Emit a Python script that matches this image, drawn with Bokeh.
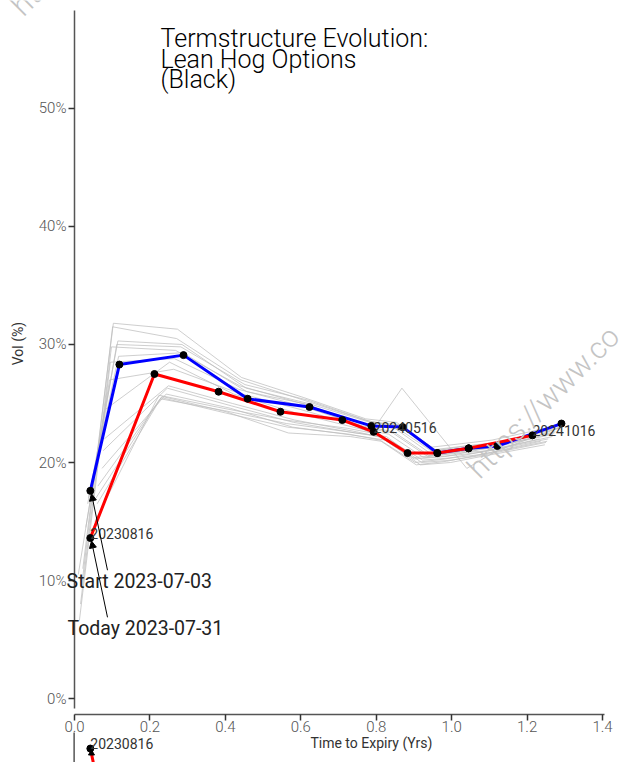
import math
from bokeh.plotting import figure
from bokeh.models import FixedTicker, PrintfTickFormatter, Label, Arrow, NormalHead
from bokeh.core.properties import value
from bokeh.embed import file_html
from bokeh.resources import INLINE

# ---- data ----
start_x = [0.042, 0.119, 0.289, 0.459, 0.623, 0.787, 0.870, 0.962, 1.045, 1.121, 1.291]
start_vol = [17.6, 28.3, 29.1, 25.4, 24.7, 23.1, 23.0, 20.8, 21.2, 21.4, 23.3]

today_x = [0.042, 0.212, 0.382, 0.546, 0.710, 0.793, 0.883, 0.962, 1.045, 1.214]
today_vol = [13.6, 27.5, 26.0, 24.3, 23.6, 22.6, 20.8, 20.8, 21.2, 22.3]

gray_x = [
    [0.037, 0.117, 0.287, 0.457, 0.622, 0.786, 0.868, 1.040, 1.120, 1.290],
    [0.035, 0.115, 0.285, 0.455, 0.620, 0.784, 0.866, 0.959, 1.039, 1.119, 1.289],
    [0.030, 0.112, 0.282, 0.452, 0.617, 0.781, 0.863, 0.956, 1.036, 1.116, 1.286],
    [0.022, 0.103, 0.273, 0.443, 0.608, 0.772, 0.854, 0.947, 1.027, 1.107, 1.277],
    [0.019, 0.101, 0.271, 0.441, 0.606, 0.770, 0.852, 0.945, 1.025, 1.105, 1.275],
    [0.016, 0.098, 0.268, 0.438, 0.603, 0.767, 0.849, 0.942, 1.022, 1.102, 1.272],
    [0.013, 0.095, 0.265, 0.435, 0.600, 0.764, 0.846, 0.939, 1.019, 1.099, 1.269],
    [0.010, 0.093, 0.263, 0.433, 0.598, 0.762, 0.844, 0.937, 1.017, 1.097, 1.267],
    [0.082, 0.252, 0.422, 0.587, 0.751, 0.833, 0.926, 1.006, 1.086, 1.256],
    [0.079, 0.249, 0.419, 0.584, 0.748, 0.830, 0.923, 1.003, 1.083, 1.253],
    [0.076, 0.246, 0.416, 0.581, 0.745, 0.827, 0.920, 1.000, 1.080, 1.250],
    [0.073, 0.243, 0.413, 0.578, 0.742, 0.824, 0.917, 0.997, 1.077, 1.247],
    [0.062, 0.232, 0.402, 0.567, 0.731, 0.813, 0.906, 0.986, 1.066, 1.236],
    [0.060, 0.230, 0.400, 0.564, 0.728, 0.810, 0.903, 0.983, 1.063, 1.233],
    [0.057, 0.227, 0.397, 0.562, 0.726, 0.808, 0.901, 0.981, 1.061, 1.231],
    [0.054, 0.224, 0.394, 0.559, 0.723, 0.805, 0.898, 0.978, 1.058, 1.228],
]
gray_vol = [
    [17.0, 29.0, 29.3, 26.0, 24.9, 22.5, 26.3, 19.5, 21.0, 23.0],
    [16.5, 30.3, 30.0, 26.3, 25.0, 23.4, 23.2, 21.0, 21.4, 21.7, 23.0],
    [14.5, 30.0, 29.8, 26.6, 25.3, 23.5, 23.1, 21.1, 21.4, 21.6, 22.9],
    [11.0, 31.8, 31.3, 27.2, 25.5, 23.7, 23.4, 21.3, 21.6, 21.9, 23.1],
    [9.5, 31.5, 30.5, 27.0, 25.3, 23.6, 23.0, 21.0, 21.2, 21.5, 22.6],
    [8.0, 29.8, 29.5, 26.5, 25.0, 23.3, 22.9, 20.8, 21.0, 21.3, 22.5],
    [6.6, 28.5, 28.8, 26.2, 24.8, 23.1, 22.6, 20.6, 20.9, 21.2, 22.4],
    [10.5, 27.0, 27.9, 25.9, 24.5, 23.0, 22.5, 20.5, 20.8, 21.0, 22.2],
    [24.5, 28.5, 25.8, 24.2, 22.9, 22.4, 20.4, 20.6, 20.9, 22.0],
    [22.0, 26.5, 25.0, 23.6, 22.6, 22.0, 20.2, 20.4, 20.7, 21.8],
    [21.0, 26.3, 24.8, 23.4, 22.5, 22.2, 20.0, 20.2, 20.6, 21.7],
    [19.5, 25.8, 24.6, 23.0, 22.3, 21.9, 19.8, 20.0, 20.5, 21.5],
    [18.0, 25.6, 24.3, 22.5, 22.2, 21.8, 19.8, 20.1, 20.6, 21.8],
    [16.5, 25.5, 24.2, 23.0, 22.4, 21.9, 20.0, 20.3, 20.8, 22.0],
    [17.0, 25.4, 24.4, 23.3, 22.6, 22.2, 20.3, 20.5, 21.0, 22.2],
    [15.0, 25.7, 24.6, 23.6, 22.9, 22.4, 20.4, 20.7, 21.1, 22.4],
]

expiry_label_idx = [0, 5, 9]
expiry_labels = ["20230816", "20240516", "20241016"]

x_ticks = [0.0, 0.2, 0.4, 0.6, 0.8, 1.0, 1.2, 1.4]
y_ticks = [0, 10, 20, 30, 40, 50]

title_lines = ["Termstructure Evolution:", "Lean Hog Options", "(Black)"]
start_text = "Start 2023-07-03"
today_text = "Today 2023-07-31"
x_title = "Time to Expiry (Yrs)"
y_title = "Vol (%)"
watermark = "https://www.co"

# fragment of the next panel visible at the very bottom
next_label = "20230816"
next_x = [0.042, 0.050]
next_vol = [-4.24, -5.45]

FONT = "Roboto"
LIGHT = "Roboto Light, Roboto"
LABEL_LIFT = 0.4  # vol points between a point and the middle of its date label

# the frame covers the whole canvas; axes are pinned at x=0 and below y=0
p = figure(width=621, height=762, x_range=(-0.19618, 1.45016), y_range=(-5.4237, 59.1525),
           output_backend="svg", toolbar_location=None,
           min_border_left=0, min_border_right=0, min_border_top=0, min_border_bottom=0)
p.grid.visible = False
p.outline_line_color = None
p.background_fill_color = "white"
p.border_fill_color = "white"

for ax in (p.xaxis[0], p.yaxis[0]):
    ax.axis_line_color = "#555555"
    ax.axis_line_width = 1.5
    ax.major_tick_line_color = "#333333"
    ax.major_tick_line_width = 1.5
    ax.major_tick_out = 6
    ax.major_tick_in = 0
    ax.minor_tick_line_color = None
    ax.major_label_text_font = LIGHT
    ax.major_label_text_font_size = "15px"
    ax.major_label_text_color = "#555555"

p.xaxis.ticker = FixedTicker(ticks=x_ticks)
p.xaxis.formatter = PrintfTickFormatter(format="%.1f")
p.xaxis.major_label_standoff = 0
p.xaxis.fixed_location = -1.356
p.xaxis.bounds = (0, 1.405)
p.yaxis.ticker = FixedTicker(ticks=y_ticks)
p.yaxis.formatter = PrintfTickFormatter(format="%d%%")
p.yaxis.major_label_standoff = 2
p.yaxis.fixed_location = 0
p.yaxis.bounds = (-0.85, 58.3)

# history in gray
p.multi_line(xs=gray_x, ys=gray_vol, line_color="#bdbdbd", line_width=1, line_alpha=0.75)
# start & today curves
p.line(start_x, start_vol, line_color="#0000ff", line_width=3)
p.line(today_x, today_vol, line_color="#ff0000", line_width=3)
p.scatter(start_x, start_vol, size=7, color="black")
p.scatter(today_x, today_vol, size=7, color="black")

p.text(x=[today_x[i] for i in expiry_label_idx],
       y=[today_vol[i] + LABEL_LIFT for i in expiry_label_idx],
       text=expiry_labels, text_font=value(FONT), text_font_size="14px", text_color="#333333",
       text_align="left", text_baseline="middle")

# title
for i, t in enumerate(title_lines):
    p.add_layout(Label(x=0.228, y=55.93 - i * 1.74, text=t, text_font=LIGHT,
                       text_font_size="25px", text_color="black",
                       text_align="left", text_baseline="middle"))

# arrows to first points
for (txt, px, py, vx, vy) in [(start_text, -0.021, 9.92, start_x[0], start_vol[0]),
                              (today_text, -0.0186, 5.93, today_x[0], today_vol[0])]:
    p.add_layout(Arrow(end=NormalHead(size=7, fill_color="black", line_color="black"),
                       x_start=0.0875, y_start=py + 0.95, x_end=vx + 0.003, y_end=vy - 0.25,
                       line_color="black", line_width=1))
    p.add_layout(Label(x=px, y=py, text=txt, text_font=FONT, text_font_size="19.5px",
                       text_color="#222222", text_align="left", text_baseline="middle"))

# axis titles
p.add_layout(Label(x=0.787, y=-3.73, text=x_title, text_font=FONT, text_font_size="14px",
                   text_color="#333333", text_align="center", text_baseline="middle"))
p.add_layout(Label(x=-0.151, y=30.08, text=y_title, text_font=FONT, text_font_size="14px",
                   text_color="#333333", text_align="center", text_baseline="middle",
                   angle=math.pi / 2))

# watermarks
for (wx, wy) in [(1.055, 19.14), (-0.155, 58.35)]:
    p.add_layout(Label(x=wx, y=wy, text=watermark, text_font=LIGHT, text_font_size="30px",
                       text_color="#c4c4c4", text_align="left", text_baseline="alphabetic",
                       angle=math.pi / 4))

# fragment of the next panel (its axis, first point and label)
p.segment(x0=[-0.001], y0=[-2.88], x1=[-0.001], y1=[-5.5], line_color="#555555", line_width=1.5)
p.line(next_x, next_vol, line_color="#ff0000", line_width=3)
p.scatter([next_x[0]], [next_vol[0]], size=7, color="black")
p.scatter([next_x[0] + 0.003], [next_vol[0] - 0.4], size=6, marker="triangle", color="black")
p.text(x=[next_x[0]], y=[next_vol[0] + LABEL_LIFT], text=[next_label], text_font=value(FONT),
       text_font_size="14px", text_color="#333333", text_align="left", text_baseline="middle")

open("out.html", "w").write(file_html(p, INLINE))
